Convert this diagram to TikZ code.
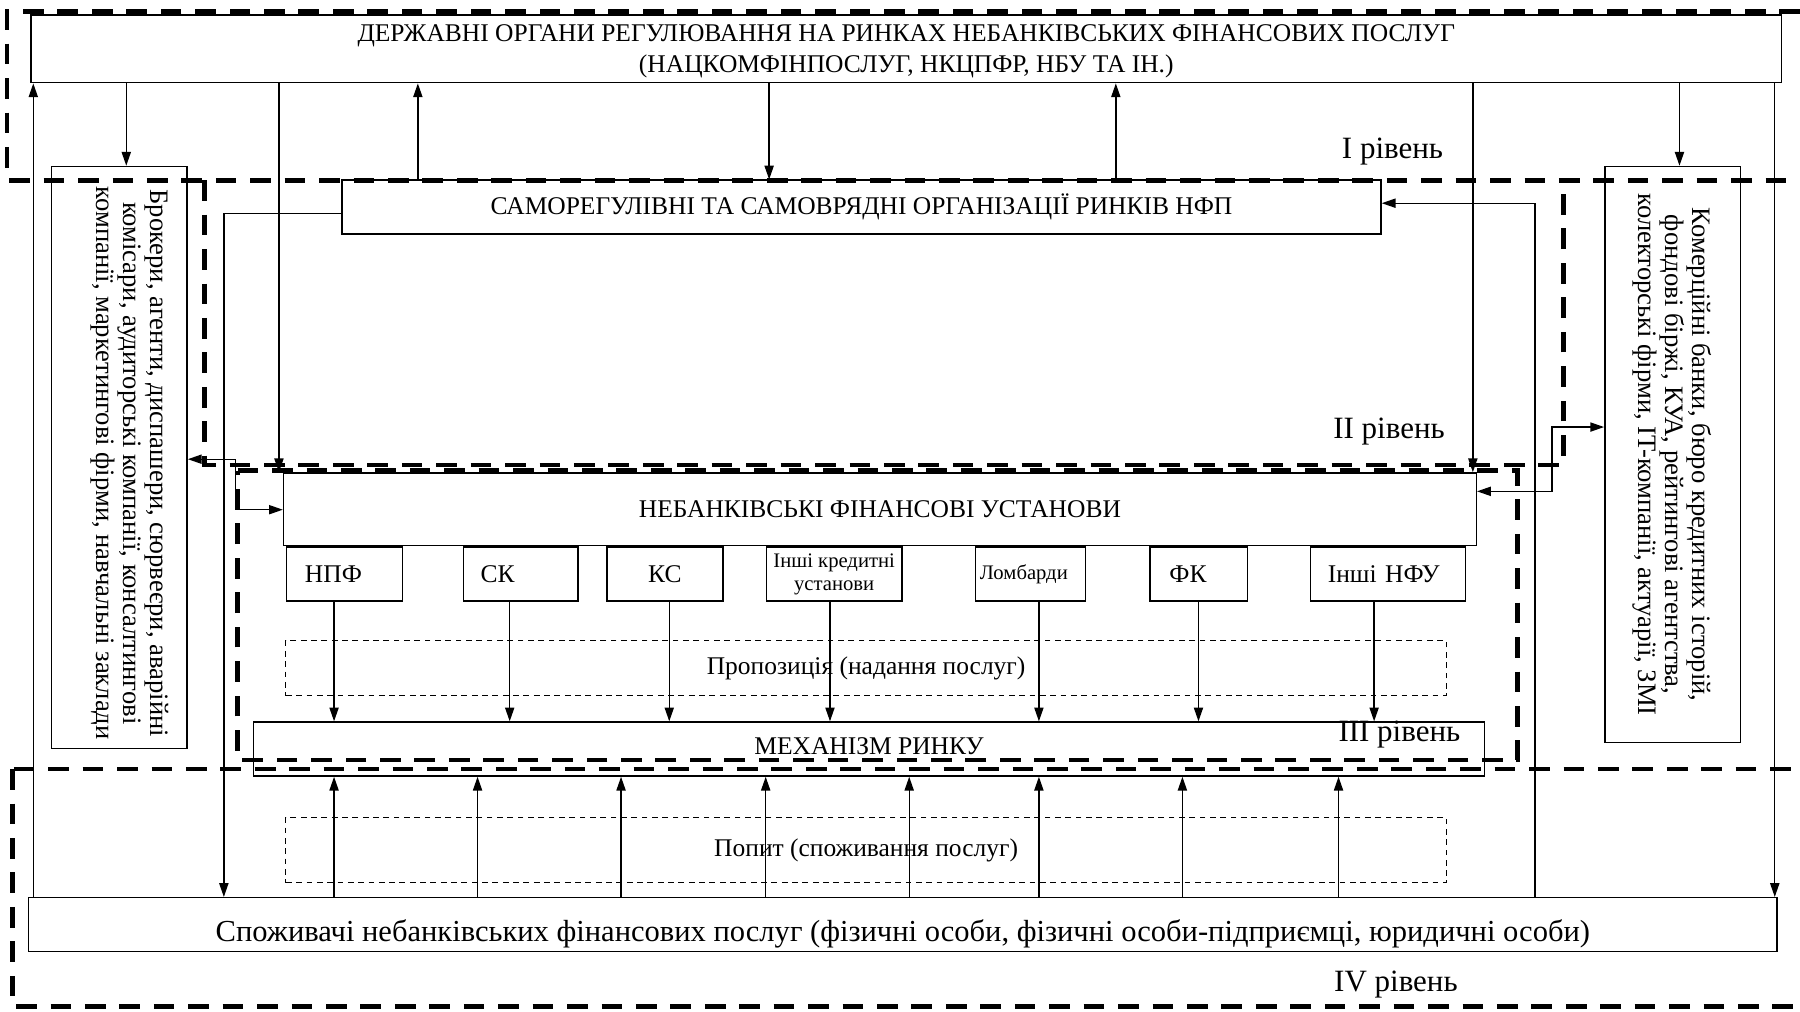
\documentclass[tikz,border=0pt]{standalone}
\usepackage{fontspec}
\usepackage{graphicx}
\setmainfont{Liberation Serif}
\usetikzlibrary{arrows.meta}

\newcommand\fmain{\fontsize{22.2}{27}\selectfont}
\newcommand\fbig{\fontsize{26.6}{30}\selectfont}
\newcommand\fsmall{\fontsize{18}{20}\selectfont}
\newcommand\flevel{\fontsize{27}{30}\selectfont}
\newcommand\fside{\fontsize{23.2}{23.5}\selectfont}

\begin{document}
\begin{tikzpicture}[x=1pt,y=-1pt,
  box/.style={draw, line width=1.3pt, inner sep=0pt, align=center, font=\fmain},
  sub/.style={box, minimum height=47pt, anchor=north west},
  dashbox/.style={draw, line width=1pt, dash pattern=on 5pt off 4pt, inner sep=0pt, font=\fmain},
  lvl/.style={line width=4pt, dash pattern=on 18pt off 12pt},
  lvltext/.style={font=\flevel, inner sep=0pt},
  arr/.style={line width=1.2pt, -{Triangle[length=12pt,width=8pt]}},
  dbl/.style={line width=1.2pt, {Triangle[length=12pt,width=8pt]}-{Triangle[length=12pt,width=8pt]}}]
\useasboundingbox (0,0) rectangle (1568,881);

% ---- regulators, self-regulating bodies, institutions, market, consumers
\node[box, minimum width=1525pt, minimum height=59pt] (gov) at (789.5,42.5)
  {\rule{0pt}{19pt}ДЕРЖАВНІ ОРГАНИ РЕГУЛЮВАННЯ НА РИНКАХ НЕБАНКІВСЬКИХ ФІНАНСОВИХ ПОСЛУГ\\(НАЦКОМФІНПОСЛУГ, НКЦПФР, НБУ ТА ІН.)};
\node[box, minimum width=905pt, minimum height=47pt] (sro) at (750.5,180.5)
  {САМОРЕГУЛІВНІ ТА САМОВРЯДНІ ОРГАНІЗАЦІЇ РИНКІВ НФП};
\node[box, minimum width=1039pt, minimum height=63pt] (nfu) at (766.5,443.5)
  {НЕБАНКІВСЬКІ ФІНАНСОВІ УСТАНОВИ};

\node[sub, inner xsep=16pt, text width=69pt, align=left] (s1) at (249,476) {НПФ};
\node[sub, inner xsep=15pt, text width=70pt, align=left] (s2) at (403,476) {СК};
\node[sub, minimum width=101pt] (s3) at (528,476) {КС};
\node[sub, minimum width=118pt, font=\fsmall] (s4) at (667,476) {Інші кредитні\\установи};
\node[sub, inner xsep=4pt, text width=88pt, align=left, font=\fsmall] (s5) at (849,476) {\raisebox{4pt}{Ломбарди}};
\node[sub, inner xsep=17pt, text width=51pt, align=left] (s6) at (1001,476) {ФК};
\node[sub, inner xsep=15pt, text width=105pt, align=left] (s7) at (1141,476) {Інші НФУ};

\node[dashbox, minimum width=1011pt, minimum height=48pt] (prop) at (754.5,582)
  {Пропозиція (надання послуг)};
\node[box, minimum width=1072pt, minimum height=47pt] (mkt) at (757,652.5) {};
\node[inner sep=0pt, font=\fmain] (mkttext) at (757,650) {МЕХАНІЗМ РИНКУ};
\node[dashbox, minimum width=1011pt, minimum height=57pt] (dem) at (754.5,740.5)
  {Попит (споживання послуг)};
\node[box, minimum width=1523pt, minimum height=47pt, font=\fbig, text height=32pt, text depth=2pt] (con) at (786.5,805.5)
  {Споживачі небанківських фінансових послуг (фізичні особи, фізичні особи-підприємці, юридичні особи)};

% ---- side participants (vertical text)
\node[box, minimum width=118pt, minimum height=507pt] (brk) at (104,398.5)
  {\rotatebox{-90}{\hspace*{10pt}\parbox[c][86pt][t]{495pt}{\fside\centering
   Брокери, агенти, диспашери, сюрвеєри, аварійні\\
   комісари, аудиторські компанії, консалтингові\\
   компанії, маркетингові фірми, навчальні заклади}}};
\node[box, minimum width=118pt, minimum height=502pt] (rbx) at (1457,396)
  {\rotatebox{-90}{\parbox{495pt}{\fside\centering
   Комерційні банки, бюро кредитних історій,\\
   фондові біржі, КУА, рейтингові агентства,\\
   колекторські фірми, IT-компанії, актуарії, ЗМІ}}};

% ---- level boundaries
\draw[lvl] (1568,10) -- (6,10) -- (6,157);
\draw[lvl] (8,157) -- (1568,157);
\draw[lvl] (178,157) -- (178,405) -- (1362,405) -- (1362,157);
\draw[lvl] (207,410) -- (1322,410) -- (1322,662) -- (207,662) -- cycle;
\draw[lvl] (12,670) -- (1568,670);
\draw[lvl] (11,670) -- (11,877) -- (1568,877);

\node[lvltext] (l1) at (1213,132) {I рівень};
\node[lvltext] (l2) at (1210,376) {II рівень};
\node[lvltext] (l3) at (1219,640) {III рівень};
\node[lvltext] (l4) at (1216,858) {IV рівень};

% ---- connections of the regulators
\draw[arr] (110,0 |- gov.south) -- (110,0 |- brk.north);
\draw[arr] (243,0 |- gov.south) -- (243,0 |- nfu.north);
\draw[arr] (364,0 |- sro.north) -- (364,0 |- gov.south);
\draw[arr] (670,0 |- gov.south) -- (670,0 |- sro.north);
\draw[arr] (972,0 |- sro.north) -- (972,0 |- gov.south);
\draw[arr] (1283,0 |- gov.south) -- (1283,0 |- nfu.north);
\draw[arr] (1463,0 |- gov.south) -- (1463,0 |- rbx.north);
\draw[arr] (1546,0 |- gov.south) -- (1546,0 |- con.north);
\draw[arr] (29,0 |- con.north) -- (29,0 |- gov.south);

% ---- self-regulating bodies and consumers
\draw[arr] (sro.west |- 0,186) -| (195,0 |- con.north);
\draw[arr] (1337,0 |- con.north) |- (sro.east |- 0,177);

% ---- side participants and institutions
\draw[dbl] (brk.east |- 0,400) -- (205,400) |- (nfu.west |- 0,444);
\draw[dbl] (rbx.west |- 0,372) -- (1352,372) |- (nfu.east |- 0,428);

% ---- supply and demand
\foreach \n/\x in {s1/291, s2/444, s3/583, s4/723, s5/905, s6/1044, s7/1197}
  \draw[arr] (\x,0 |- \n.south) -- (\x,0 |- mkt.north);
\foreach \x in {291, 416, 541, 667, 792, 905, 1030, 1166}
  \draw[arr] (\x,0 |- con.north) -- (\x,0 |- mkt.south);
\end{tikzpicture}
\end{document}
